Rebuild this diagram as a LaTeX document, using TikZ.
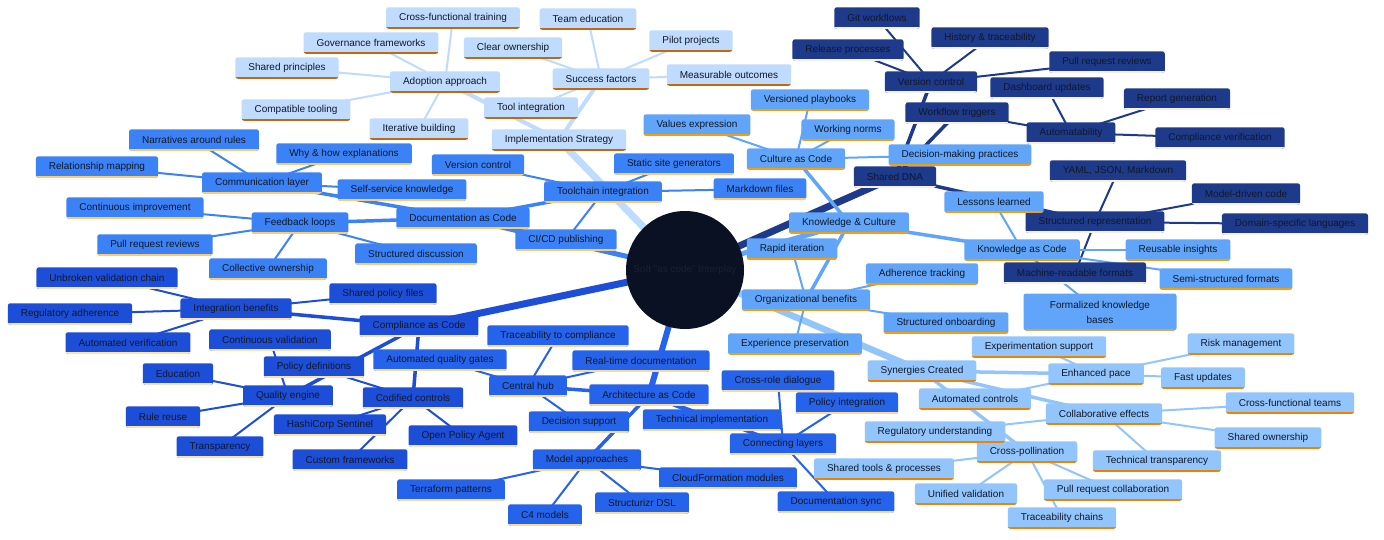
\documentclass[tikz,border=0pt]{standalone}
\usepackage{fontspec}
\setmainfont{Liberation Sans}
\usetikzlibrary{backgrounds}
\definecolor{cImp}{HTML}{BFDBFE}
\definecolor{bImp}{HTML}{C2680E}
\definecolor{cDoc}{HTML}{3B82F6}
\definecolor{bDoc}{HTML}{FCCB70}
\definecolor{cComp}{HTML}{1D4ED8}
\definecolor{bComp}{HTML}{FDE2A0}
\definecolor{cArch}{HTML}{2563EB}
\definecolor{bArch}{HTML}{FCD990}
\definecolor{cNavy}{HTML}{1E3A8A}
\definecolor{bNavy}{HTML}{FCEFD8}
\definecolor{cKC}{HTML}{60A5FA}
\definecolor{bKC}{HTML}{F59E0B}
\definecolor{cSyn}{HTML}{93C5FD}
\definecolor{bSyn}{HTML}{EE8300}
\definecolor{txt}{HTML}{111827}
\definecolor{cCen}{HTML}{0A1122}
\definecolor{cCenT}{HTML}{182033}
\tikzset{
  mm/.style 2 args={draw=none, fill=#1, rounded corners=2.5pt, inner xsep=13pt, inner ysep=0pt,
    minimum height=21.5pt, text=txt, font=\fontsize{10}{12}\selectfont,
    path picture={\fill[#2, sharp corners] ([yshift=2pt]path picture bounding box.south west) rectangle (path picture bounding box.south east);}},
  nImp/.style={mm={cImp}{bImp}},
  nDoc/.style={mm={cDoc}{bDoc}},
  nComp/.style={mm={cComp}{bComp}},
  nArch/.style={mm={cArch}{bArch}},
  nNavy/.style={mm={cNavy}{bNavy}},
  nKC/.style={mm={cKC}{bKC}},
  nSyn/.style={mm={cSyn}{bSyn}},
  ed/.style 2 args={draw=#1, line width=#2},
}
\begin{document}
\begin{tikzpicture}[x=1pt,y=-1pt]
\useasboundingbox (0,0) rectangle (1384,539);
% center
\node[circle, fill=cCen, minimum size=118pt, inner sep=0pt, text=cCenT, font=\fontsize{10}{12}\selectfont] (c) at (685,270) {Soft "as code" Interplay};
% Implementation Strategy
\node[nImp] (impl) at (559,140) {Implementation Strategy};
\node[nImp] (adopt) at (445,82) {Adoption approach};
\node[nImp] (succ) at (601,79) {Success factors};
\node[nImp] (ti) at (531,108) {Tool integration};
\node[nImp] (cft) at (453,18) {Cross-functional training};
\node[nImp] (gf) at (371,43) {Governance frameworks};
\node[nImp] (sp) at (287,68) {Shared principles};
\node[nImp] (ct) at (296,110) {Compatible tooling};
\node[nImp] (ib) at (419,129) {Iterative building};
\node[nImp] (te) at (588,19) {Team education};
\node[nImp] (co) at (513,48) {Clear ownership};
\node[nImp] (pp) at (691,41) {Pilot projects};
\node[nImp] (mo) at (729,75) {Measurable outcomes};
% Documentation as Code
\node[nDoc] (doc) at (463,218) {Documentation as Code};
\node[nDoc] (tool) at (603,192) {Toolchain integration};
\node[nDoc] (comm) at (262,183) {Communication layer};
\node[nDoc] (fb) at (300,223) {Feedback loops};
\node[nDoc] (vcl) at (478,165) {Version control};
\node[nDoc] (ssg) at (674,164) {Static site generators};
\node[nDoc] (md) at (760,189) {Markdown files};
\node[nDoc] (cicd) at (566,240) {CI/CD publishing};
\node[nDoc] (nar) at (194,140) {Narratives around rules};
\node[nDoc] (rel) at (97,167) {Relationship mapping};
\node[nDoc] (why) at (344,154) {Why \& how explanations};
\node[nDoc] (ssk) at (402,190) {Self-service knowledge};
\node[nDoc] (ci) at (135,208) {Continuous improvement};
\node[nDoc] (prr) at (155,245) {Pull request reviews};
\node[nDoc] (own) at (268,269) {Collective ownership};
\node[nDoc] (sd) at (416,254) {Structured discussion};
% Compliance as Code
\node[nComp] (comp) at (419,326) {Compliance as Code};
\node[nComp] (intb) at (236,309) {Integration benefits};
\node[nComp] (qe) at (288,396) {Quality engine};
\node[nComp] (cc) at (413,398) {Codified controls};
\node[nComp] (uvc) at (107,278) {Unbroken validation chain};
\node[nComp] (ra) at (70,314) {Regulatory adherence};
\node[nComp] (av) at (128,343) {Automated verification};
\node[nComp] (spf) at (383,294) {Shared policy files};
\node[nComp] (edu) at (178,374) {Education};
\node[nComp] (rr) at (163,417) {Rule reuse};
\node[nComp] (tr) at (220,447) {Transparency};
\node[nComp] (cv) at (270,340) {Continuous validation};
\node[nComp] (pd) at (314,367) {Policy definitions};
\node[nComp] (hs) at (330,425) {HashiCorp Sentinel};
\node[nComp] (opa) at (463,436) {Open Policy Agent};
\node[nComp] (cf) at (350,460) {Custom frameworks};
% Architecture as Code
\node[nArch] (arch) at (649,395) {Architecture as Code};
\node[nArch] (hub) at (528,386) {Central hub};
\node[nArch] (tech) at (712,420) {Technical implementation};
\node[nArch] (model) at (587,460) {Model approaches};
\node[nArch] (conn) at (783,444) {Connecting layers};
\node[nArch] (tc) at (558,336) {Traceability to compliance};
\node[nArch] (rtd) at (641,361) {Real-time documentation};
\node[nArch] (aqg) at (440,360) {Automated quality gates};
\node[nArch] (ds) at (579,422) {Decision support};
\node[nArch] (tp) at (451,490) {Terraform patterns};
\node[nArch] (c4) at (545,515) {C4 models};
\node[nArch] (sdsl) at (642,503) {Structurizr DSL};
\node[nArch] (cfm) at (728,478) {CloudFormation modules};
\node[nArch] (crd) at (778,381) {Cross-role dialogue};
\node[nArch] (pi) at (847,403) {Policy integration};
\node[nArch] (dsync) at (836,502) {Documentation sync};
% Shared DNA
\node[nNavy] (dna) at (895,177) {Shared DNA};
\node[nNavy] (vc) at (931,82) {Version control};
\node[nNavy] (wt) at (957,113) {Workflow triggers};
\node[nNavy] (auto) at (1071,133) {Automatability};
\node[nNavy] (sr) at (1095,222) {Structured representation};
\node[nNavy] (gw) at (877,18) {Git workflows};
\node[nNavy] (rp) at (848,50) {Release processes};
\node[nNavy] (ht) at (990,38) {History \& traceability};
\node[nNavy] (prn) at (1107,62) {Pull request reviews};
\node[nNavy] (du) at (1047,88) {Dashboard updates};
\node[nNavy] (rg) at (1177,99) {Report generation};
\node[nNavy] (cver) at (1220,138) {Compliance verification};
\node[nNavy] (yaml) at (1118,171) {YAML, JSON, Markdown};
\node[nNavy] (mdc) at (1246,194) {Model-driven code};
\node[nNavy] (dsl) at (1295,224) {Domain-specific languages};
% Knowledge & Culture
\node[nKC] (kc) at (849,223) {Knowledge \& Culture};
\node[nKC] (cac) at (796,159) {Culture as Code};
\node[nKC] (kac) at (1022,250) {Knowledge as Code};
\node[nKC] (ob) at (806,300) {Organizational benefits};
\node[nKC] (ve) at (697,125) {Values expression};
\node[nKC] (vp) at (810,100) {Versioned playbooks};
\node[nKC] (wn) at (848,130) {Working norms};
\node[nKC] (dmp) at (960,155) {Decision-making practices};
\node[nKC] (ll) at (994,202) {Lessons learned};
\node[nKC] (ri) at (1178,250) {Reusable insights};
\node[nKC] (ssf) at (1226,279) {Semi-structured formats};
\node[nKC, minimum width=153pt, minimum height=37pt, align=center] (fkb) at (1100,312) {Formalized knowledge\\[3pt]bases};
\node[nNavy] (mrf) at (1075,273) {Machine-readable formats};
\node[nKC] (rapid) at (792,249) {Rapid iteration};
\node[nKC] (at) at (922,274) {Adherence tracking};
\node[nKC] (so) at (946,323) {Structured onboarding};
\node[nKC] (exp) at (795,344) {Experience preservation};
% Synergies Created
\node[nSyn] (syn) at (922,371) {Synergies Created};
\node[nSyn] (ep) at (1096,374) {Enhanced pace};
\node[nSyn] (ce) at (1104,414) {Collaborative effects};
\node[nSyn] (cp) at (1027,452) {Cross-pollination};
\node[nSyn] (es) at (1039,347) {Experimentation support};
\node[nSyn] (rm) at (1241,344) {Risk management};
\node[nSyn] (fu) at (1203,378) {Fast updates};
\node[nSyn] (ac) at (975,399) {Automated controls};
\node[nSyn] (ru) at (935,432) {Regulatory understanding};
\node[nSyn] (cftm) at (1290,403) {Cross-functional teams};
\node[nSyn] (sown) at (1268,438) {Shared ownership};
\node[nSyn] (tt) at (1157,461) {Technical transparency};
\node[nSyn] (stp) at (884,469) {Shared tools \& processes};
\node[nSyn] (uv) at (966,494) {Unified validation};
\node[nSyn] (prc) at (1113,490) {Pull request collaboration};
\node[nSyn] (tch) at (1062,518) {Traceability chains};

\begin{scope}[on background layer]
\fill[white] (0,0) rectangle (1384,539);
% level 1
\draw[ed={cImp}{7pt}] (c.center) -- (impl.center);
\draw[ed={cDoc}{5pt}] (c.center) -- (doc.center);
\draw[ed={cComp}{7pt}] (c.center) -- (comp.center);
\draw[ed={cArch}{6pt}] (c.center) -- (arch.center);
\draw[ed={cNavy}{7pt}] (c.center) -- (dna.center);
\draw[ed={cKC}{5pt}] (c.center) -- (kc.center);
\draw[ed={cSyn}{6.5pt}] (c.center) -- (syn.center);
% level 2
\foreach \a/\b in {impl/adopt, impl/succ} \draw[ed={cImp}{4pt}] (\a.center) -- (\b.center);
\foreach \a/\b in {doc/tool, doc/comm, doc/fb} \draw[ed={cDoc}{3.5pt}] (\a.center) -- (\b.center);
\foreach \a/\b in {comp/intb, comp/qe, comp/cc} \draw[ed={cComp}{3.5pt}] (\a.center) -- (\b.center);
\foreach \a/\b in {arch/hub, arch/tech, arch/model, arch/conn} \draw[ed={cArch}{3.5pt}] (\a.center) -- (\b.center);
\foreach \a/\b in {dna/vc, dna/wt, dna/sr} \draw[ed={cNavy}{3.5pt}] (\a.center) -- (\b.center);
\foreach \a/\b in {kc/cac, kc/kac, kc/ob} \draw[ed={cKC}{3.5pt}] (\a.center) -- (\b.center);
\foreach \a/\b in {syn/ep, syn/ce, syn/cp} \draw[ed={cSyn}{3.5pt}] (\a.center) -- (\b.center);
% level 3
\foreach \a/\b in {adopt/cft, adopt/gf, adopt/sp, adopt/ct, adopt/ib, succ/te, succ/co, succ/pp, succ/mo, succ/ti}
  \draw[ed={cImp}{2pt}] (\a.center) -- (\b.center);
\foreach \a/\b in {tool/vcl, tool/ssg, tool/md, tool/cicd, comm/nar, comm/rel, comm/why, comm/ssk, fb/ci, fb/prr, fb/own, fb/sd}
  \draw[ed={cDoc}{2pt}] (\a.center) -- (\b.center);
\foreach \a/\b in {intb/uvc, intb/ra, intb/av, intb/spf, qe/edu, qe/rr, qe/tr, qe/cv, cc/pd, cc/hs, cc/opa, cc/cf}
  \draw[ed={cComp}{2pt}] (\a.center) -- (\b.center);
\foreach \a/\b in {hub/tc, hub/rtd, hub/aqg, hub/ds, model/tp, model/c4, model/sdsl, model/cfm, conn/crd, conn/pi, conn/dsync}
  \draw[ed={cArch}{2pt}] (\a.center) -- (\b.center);
\foreach \a/\b in {vc/gw, vc/rp, vc/ht, vc/prn, wt/auto, auto/du, auto/rg, auto/cver, sr/yaml, sr/mdc, sr/dsl, sr/mrf}
  \draw[ed={cNavy}{2pt}] (\a.center) -- (\b.center);
\foreach \a/\b in {cac/ve, cac/vp, cac/wn, cac/dmp, kac/ll, kac/ri, kac/ssf, kac/fkb, ob/rapid, ob/at, ob/so, ob/exp}
  \draw[ed={cKC}{2pt}] (\a.center) -- (\b.center);
\foreach \a/\b in {ep/es, ep/rm, ep/fu, ep/ac, ce/ru, ce/cftm, ce/sown, ce/tt, cp/stp, cp/uv, cp/prc, cp/tch}
  \draw[ed={cSyn}{2pt}] (\a.center) -- (\b.center);
\end{scope}
\end{tikzpicture}
\end{document}
